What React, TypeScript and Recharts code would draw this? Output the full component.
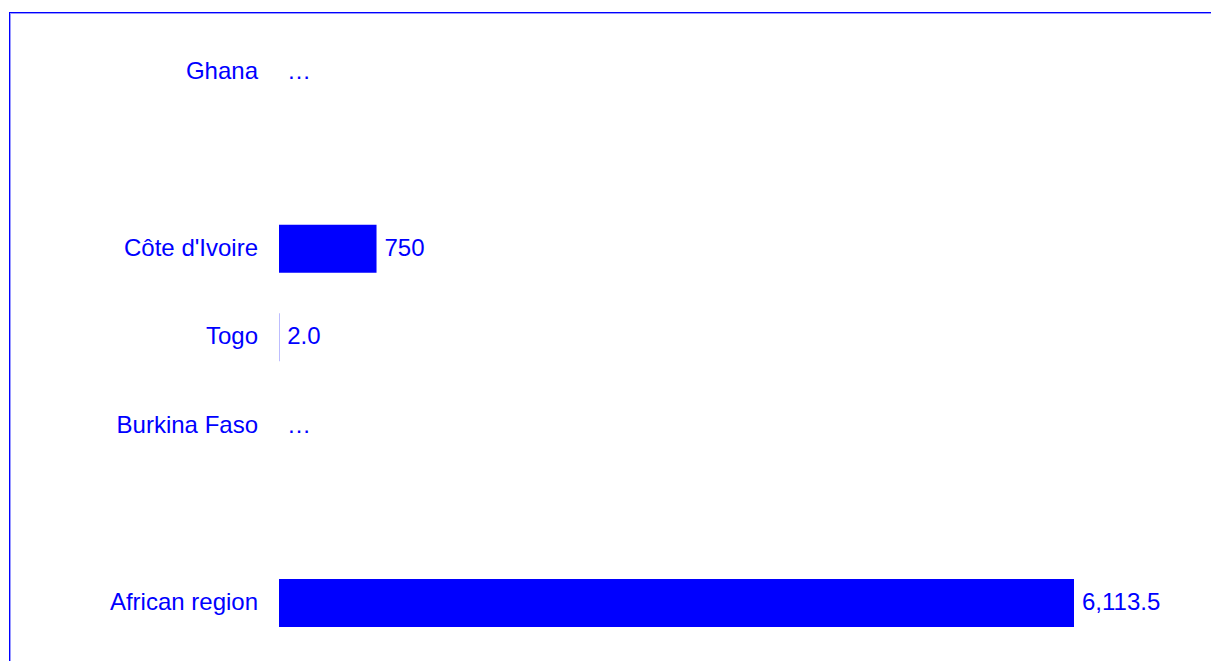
import React from "react";
import { ComposedChart, Bar, Scatter, XAxis, YAxis } from "recharts";

const categories = ["Ghana", "", "Côte d'Ivoire", "Togo", "Burkina Faso", "", "African region"];
const values: (number | null)[] = [null, null, 750, 2.0, null, null, 6113.5];
const valueLabels = ["…", "", "750", "2.0", "…", "", "6,113.5"];

const data = categories.map((c, i) => ({
  key: `row${i}`,
  name: c,
  value: values[i],
  label: valueLabels[i],
}));

const BLUE = "#0000ff";
const FONT = "'Liberation Sans', Arial, sans-serif";
const FS = 24;
const TEXT_SHIFT = -2;

const xValue = (d: any) => d.value ?? 0;

const LabelShape = (props: any) => {
  const { cx, cy, payload } = props;
  const text = payload?.label;
  if (!text) return <g />;
  return (
    <text
      x={Number(cx) + 8}
      y={Number(cy) + TEXT_SHIFT}
      fill={BLUE}
      fontSize={FS}
      fontFamily={FONT}
      textAnchor="start"
      dominantBaseline="central"
    >
      {text}
    </text>
  );
};

const CategoryTick = (props: any) => {
  const { x, y, index } = props;
  const text = categories[index];
  if (!text) return <g />;
  return (
    <text
      x={Number(x)}
      y={Number(y) + TEXT_SHIFT}
      fill={BLUE}
      fontSize={FS}
      fontFamily={FONT}
      textAnchor="end"
      dominantBaseline="central"
    >
      {text}
    </text>
  );
};

export default function App() {
  return (
    <div style={{ position: "absolute", left: 0, top: 0, width: 1211, height: 661, background: "#fff" }}>
      <div
        style={{
          position: "absolute",
          left: 10,
          top: 13,
          width: 1201,
          height: 648,
          borderLeft: "1px solid #9a9aff",
          borderTop: "1px solid #9a9aff",
          boxSizing: "border-box",
        }}
      />
      <div
        style={{
          position: "absolute",
          left: 9,
          top: 12,
          width: 1202,
          height: 649,
          borderLeft: `1px solid ${BLUE}`,
          borderTop: `1px solid ${BLUE}`,
          boxSizing: "border-box",
        }}
      />
      <div style={{ position: "absolute", left: 0, top: 0 }}>
        <ComposedChart
          width={1211}
          height={661}
          data={data}
          layout="vertical"
          margin={{ top: 27.8, right: 137, bottom: 13.6, left: 0 }}
          barCategoryGap={0}
        >
          <XAxis type="number" dataKey={xValue} domain={[0, "dataMax"]} hide />
          <YAxis
            type="category"
            dataKey="key"
            width={279}
            axisLine={false}
            tickLine={false}
            tickSize={0}
            tickMargin={21}
            interval={0}
            tick={<CategoryTick />}
          />
          <Bar dataKey={xValue} fill={BLUE} barSize={48} isAnimationActive={false} />
          <Scatter dataKey={xValue} shape={<LabelShape />} isAnimationActive={false} />
        </ComposedChart>
      </div>
    </div>
  );
}
